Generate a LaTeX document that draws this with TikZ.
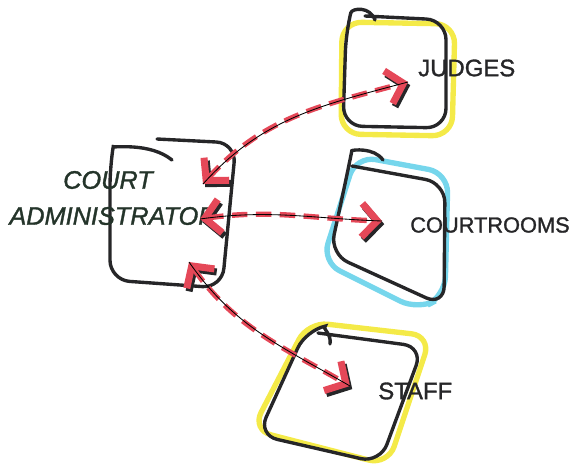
\documentclass[tikz,border=0pt]{standalone}
\usepackage{fontspec}
\setsansfont{Liberation Sans}
\newfontfamily\handfont[FakeBold=1.3]{Liberation Sans}
\usetikzlibrary{arrows.meta}
\usetikzlibrary{calc}
\usetikzlibrary{positioning}

\definecolor{ink}{RGB}{38,38,40}
\definecolor{inkgreen}{RGB}{36,52,42}
\definecolor{marker}{RGB}{229,72,88}
\definecolor{hiyellow}{RGB}{244,234,72}
\definecolor{hicyan}{RGB}{118,214,236}

\tikzset{
  sketch/.style={draw=ink, line width=2.4pt, rounded corners=14pt, line cap=round},
  glow/.style={line width=3.8pt, rounded corners=14pt},
  tag/.style={font=\handfont\fontsize{17}{19}\selectfont, text=ink, anchor=west, inner sep=0pt},
  flow/.style={draw=marker, line width=3.8pt, dash pattern=on 11pt off 6pt,
    >={Straight Barb[length=11pt, width=24pt, line width=5pt]}, <->,
    preaction={draw=ink, dash pattern=on 0pt off 4000pt, transform canvas={shift={(1.6pt,-2.2pt)}}},
    postaction={draw=black, line width=0.6pt, solid, -}}
}

\begin{document}
\begin{tikzpicture}[x=0.025cm, y=-0.025cm]
    \useasboundingbox (0,0) rectangle (573,470);

    \draw [glow, draw=hiyellow] (342,22) -- (341,134) -- (452,136) -- (455,24) -- cycle;
    \draw [glow, draw=hicyan] (356,156) -- (448,173) -- (445,296) -- (418,310) -- (322,262) -- cycle;
    \draw [glow, draw=hiyellow] (308,322) -- (431,336) -- (388,465) -- (252,430) -- cycle;

    \draw [sketch] (157,139) -- (236,143) -- (222,288) -- (110,280) -- (110,166) .. controls (113,148) and (150,142) .. (172,160);
    \draw [sketch] (375,20) .. controls (370,6) and (352,8) .. (346,32) -- (343,126) -- (446,128) -- (446,20) -- (365,16);
    \draw [sketch] (383,160) .. controls (374,147) and (352,150) .. (348,170) -- (330,254) -- (444,306) -- (445,183) -- (352,166);
    \draw [sketch] (330,344) .. controls (332,334) and (321,327) .. (306,330) -- (258,435) -- (380,463) -- (423,347) -- (318,333);

    \node [tag, font=\handfont\itshape\fontsize{18}{20}\selectfont, text=inkgreen, anchor=center] (court) at (108,180) {COURT};
    \node [tag, font=\handfont\itshape\fontsize{18}{20}\selectfont, text=inkgreen, anchor=center] (admin) at (113,216) {ADMINISTRATOR};
    \node [tag] (judges) at (418,68) {JUDGES};
    \node [tag, font=\handfont\fontsize{15.5}{17}\selectfont] (rooms) at (410,225) {COURTROOMS};
    \node [tag] (staff) at (378,391) {STAFF};

    \coordinate (adm-j) at (203,184);
    \coordinate (adm-c) at (200,219);
    \coordinate (adm-s) at (189,262);
    \coordinate (jud-in) at (408,82);
    \coordinate (crt-in) at (382,221);
    \coordinate (stf-in) at (350,386);

    \draw [flow] (adm-j) to [out=48, in=195] (jud-in);
    \draw [flow] (adm-c) to [out=8, in=178] (crt-in);
    \draw [flow] (adm-s) to [out=-55, in=150] (stf-in);
  \end{tikzpicture}
\end{document}
